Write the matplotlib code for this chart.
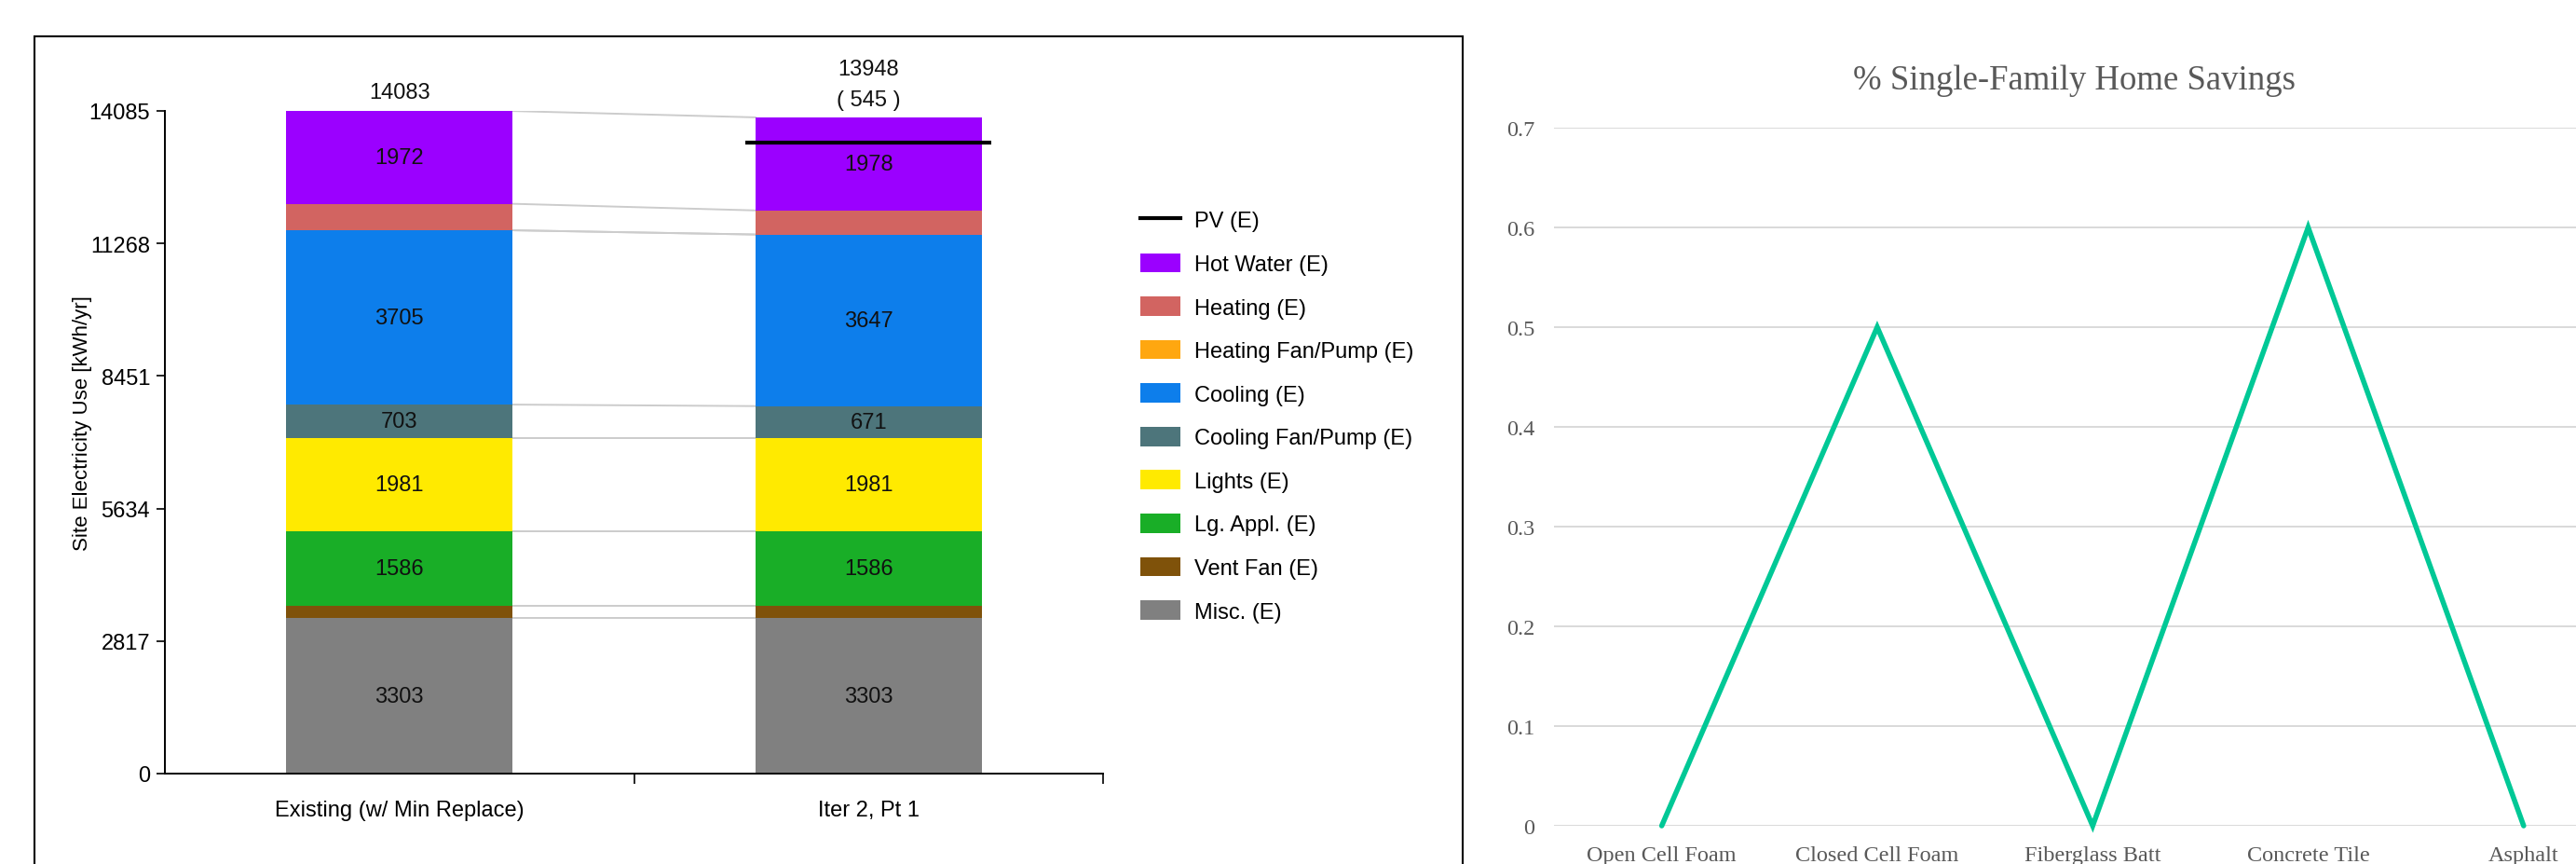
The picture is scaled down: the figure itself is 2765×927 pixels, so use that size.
import matplotlib
matplotlib.use("Agg")
import matplotlib.pyplot as plt
from matplotlib import font_manager
from matplotlib.patches import Patch, Rectangle
from matplotlib.lines import Line2D

# left chart: site electricity use by end use
scenarios = ["Existing (w/ Min Replace)", "Iter 2, Pt 1"]
end_uses = ["Misc. (E)", "Vent Fan (E)", "Lg. Appl. (E)", "Lights (E)",
            "Cooling Fan/Pump (E)", "Cooling (E)", "Heating Fan/Pump (E)",
            "Heating (E)", "Hot Water (E)"]
use_existing = [3303, 270, 1586, 1981, 703, 3705, 0, 563, 1972]
use_iter2 = [3303, 270, 1586, 1981, 671, 3647, 0, 512, 1978]
pv = [0, -545]
colors = ["#808080", "#7f520a", "#19ae27", "#ffea00", "#4d757b",
          "#0d7eeb", "#ffa710", "#d26461", "#9b00ff"]
y_ticks = [0, 2817, 5634, 8451, 11268, 14085]

# right chart: savings
materials = ["Open Cell Foam", "Closed Cell Foam", "Fiberglass Batt",
             "Concrete Tile", "Asphalt"]
savings = [0, 0.5, 0, 0.6, 0]
s_ticks = [0, 0.1, 0.2, 0.3, 0.4, 0.5, 0.6, 0.7]

names = {f.name for f in font_manager.fontManager.ttflist}
if "Liberation Sans Narrow" in names:
    nfont, nsize = "Liberation Sans Narrow", 20
else:
    nfont, nsize = "Liberation Sans", 17

W, H = 2765, 928
fig = plt.figure(figsize=(W / 100, H / 100), dpi=100)

# ---- left panel ----
ax = fig.add_axes([177 / W, 1 - 831 / H, (1184 - 177) / W, (831 - 120) / H])
bw = 0.4826
data = [use_existing, use_iter2]
cums = []
for i, vals in enumerate(data):
    bottom = 0
    c = []
    for v, col in zip(vals, colors):
        ax.bar(i, v, bw, bottom=bottom, color=col, linewidth=0)
        if v > 600:
            ax.text(i, bottom + v / 2, str(v), ha="center", va="center",
                    family=nfont, fontsize=nsize, color="#111111")
        bottom += v
        c.append(bottom)
    cums.append(c)

# connector lines between bars
for a, b in zip(cums[0], cums[1]):
    ax.plot([bw / 2, 1 - bw / 2], [a, b], color="#cccccc", lw=1.4, zorder=0)

# totals
for i in range(2):
    tot = cums[i][-1]
    if pv[i] != 0:
        ax.hlines(tot + pv[i], i - 0.262, i + 0.262, color="black", lw=3, zorder=5)
        ax.text(i, tot + 375, "( %d )" % abs(pv[i]), ha="center", va="center",
                family=nfont, fontsize=nsize, color="#111111")
        ax.text(i, tot + 1028, str(tot), ha="center", va="center",
                family=nfont, fontsize=nsize, color="#111111")
    else:
        ax.text(i, tot + 398, str(tot), ha="center", va="center",
                family=nfont, fontsize=nsize, color="#111111")

ax.set_xlim(-0.5, 1.5)
ax.set_ylim(0, y_ticks[-1])
ax.set_yticks(y_ticks)
ax.set_yticklabels([str(t) for t in y_ticks], family=nfont, fontsize=nsize)
ax.set_xticks([0, 1])
ax.set_xticklabels(scenarios, family=nfont, fontsize=nsize)
ax.set_xticks([0.5, 1.5], minor=True)
ax.tick_params(axis="x", which="major", length=0, pad=20)
ax.tick_params(axis="x", which="minor", length=8, width=1.2, direction="out")
ax.tick_params(axis="y", length=6.5, width=1.2, pad=5)
for s in ["top", "right"]:
    ax.spines[s].set_visible(False)
ax.spines["left"].set_linewidth(1.4)
ax.spines["bottom"].set_linewidth(1.4)
ax.set_ylabel("Site Electricity Use [kWh/yr]", family="Liberation Sans", fontsize=16)
ax.yaxis.set_label_coords(-0.077, 0.53)

handles = [Line2D([0], [0], color="black", lw=3)]
labels = ["PV (E)"]
for name, col in reversed(list(zip(end_uses, colors))):
    handles.append(Patch(facecolor=col, edgecolor="none"))
    labels.append(name)
ax.legend(handles, labels, loc="upper left", bbox_to_anchor=(1224 / W, 1 - 226 / H),
          bbox_transform=fig.transFigure, frameon=False, borderpad=0, borderaxespad=0,
          handlelength=1.82, handleheight=0.97, handletextpad=0.64, labelspacing=0.98,
          prop={"family": nfont, "size": nsize})

fig.add_artist(Rectangle((37 / W, -0.1), (1570 - 37) / W, 1 - 40 / H + 0.1,
                         transform=fig.transFigure, fill=False, lw=1.5,
                         edgecolor="black", clip_on=False))

# ---- right panel ----
ax2 = fig.add_axes([1668 / W, 1 - 887 / H, (W - 1668) / W, (887 - 138) / H])
x = list(range(len(materials)))
ax2.plot(x, savings, color="#00c896", lw=4, solid_capstyle="round",
         solid_joinstyle="miter", clip_on=False, zorder=3)
ax2.set_xlim(-0.5, 4.243)
ax2.set_ylim(0, 0.7)
ax2.set_yticks(s_ticks)
ax2.set_yticklabels(["0" if t == 0 else "%.1f" % t for t in s_ticks],
                    family="Liberation Serif", fontsize=17.5, color="#595959")
ax2.set_xticks(x)
ax2.set_xticklabels(materials, family="Liberation Serif", fontsize=17.5, color="#595959")
ax2.tick_params(axis="both", length=0)
ax2.tick_params(axis="y", pad=15)
ax2.tick_params(axis="x", pad=15)
ax2.grid(axis="y", color="#d9d9d9", lw=1.4)
ax2.set_axisbelow(True)
for s in ax2.spines.values():
    s.set_visible(False)
ax2.text(0.509, 1.069, "% Single-Family Home Savings", transform=ax2.transAxes,
         ha="center", va="center", family="Liberation Serif", fontsize=26.5,
         color="#595959")

fig.savefig("out.png", dpi=100)
